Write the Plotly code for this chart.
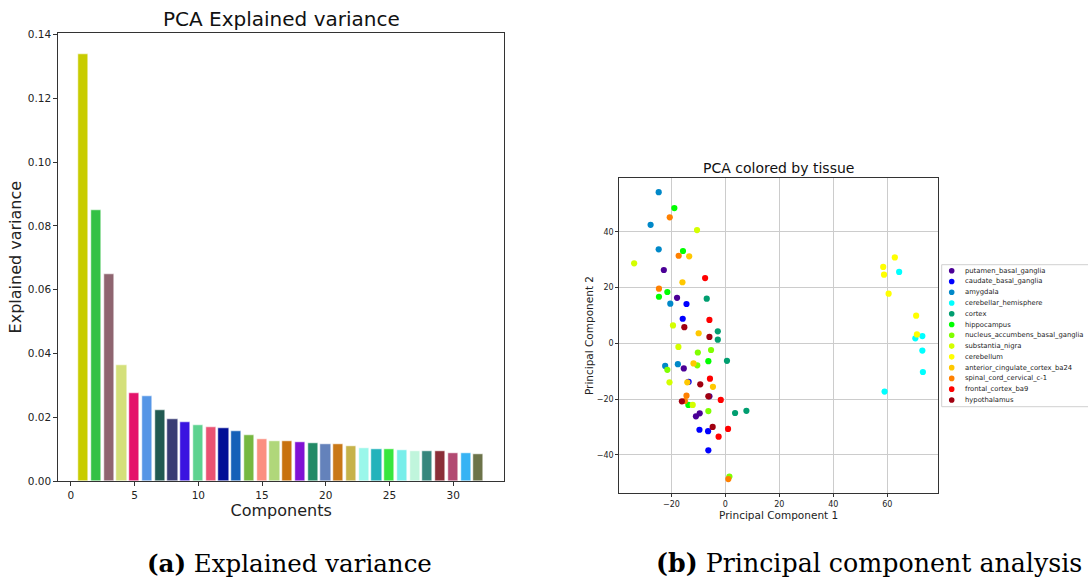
import plotly.graph_objects as go

W, H = 1088, 582

# ---------------- data: explained variance ----------------
components = list(range(1, 33))
explained_variance = [0.1337, 0.0849, 0.0649, 0.0363, 0.0274, 0.0267, 0.0221, 0.0192,
                      0.0183, 0.0174, 0.0167, 0.0165, 0.0155, 0.0144, 0.0132, 0.0125,
                      0.0125, 0.0121, 0.0119, 0.0115, 0.0115, 0.0109, 0.0103, 0.0100,
                      0.0098, 0.0096, 0.0094, 0.0094, 0.0092, 0.0088, 0.0088, 0.0084]
bar_colors = ["#c8cc00", "#33c145", "#8f6570", "#d4e07a", "#e4136a", "#5596e6", "#225a52", "#393c75",
              "#3a14e0", "#5dd28f", "#ea5272", "#020f96", "#1560b8", "#76b840", "#fb8f80", "#b0d77a",
              "#c8720f", "#8011d4", "#228a66", "#6482bb", "#c97817", "#c6b34a", "#9af7ea", "#23b3bb",
              "#38e63e", "#78eeea", "#c0f5dc", "#37867d", "#8a2e38", "#b24a72", "#36b3f4", "#6c7349"]
bar_xticks = [0, 5, 10, 15, 20, 25, 30]

# ---------------- data: PCA scatter ----------------
tissues = ["putamen_basal_ganglia", "caudate_basal_ganglia", "amygdala", "cerebellar_hemisphere",
           "cortex", "hippocampus", "nucleus_accumbens_basal_ganglia", "substantia_nigra",
           "cerebellum", "anterior_cingulate_cortex_ba24", "spinal_cord_cervical_c-1",
           "frontal_cortex_ba9", "hypothalamus"]
tissue_colors = ["#4b0096", "#0000ff", "#0088c8", "#00ffff", "#009e70", "#00ff00", "#80ff00",
                 "#d4ff00", "#ffff00", "#ffc800", "#ff8000", "#ff0000", "#a00010"]

putamen_pc1 = [-22.8, -17.9, -15.4, -5.9, -9.5, -10.9]
putamen_pc2 = [26.3, 16.3, -9.0, -19.0, -25.1, -26.2]
caudate_pc1 = [-14.4, -15.8, -13.6, -9.6, -6.4, -6.3]
caudate_pc2 = [14.1, 8.8, -13.8, -31.0, -31.5, -38.4]
amygdala_pc1 = [-24.7, -27.7, -24.7, -20.4, -22.3, -17.6]
amygdala_pc2 = [54.2, 42.5, 33.7, 14.2, -8.1, -7.5]
cerebellar_hemisphere_pc1 = [64.4, 70.4, 73.0, 73.0, 73.2, 59.0]
cerebellar_hemisphere_pc2 = [25.6, 1.8, 2.6, -2.6, -10.3, -17.3]
cortex_pc1 = [-6.9, -2.8, -2.8, 0.6, 3.6, 7.8]
cortex_pc2 = [16.0, 4.3, 1.3, -6.3, -25.0, -24.2]
hippocampus_pc1 = [-18.9, -15.7, -21.5, -24.6, -6.3, -13.7]
hippocampus_pc2 = [48.5, 33.1, 18.4, 16.7, -6.4, -22.1]
nucleus_accumbens_pc1 = [-10.2, -5.3, -10.4, -21.5, -6.3, 1.5]
nucleus_accumbens_pc2 = [-3.3, -2.4, -7.9, -9.5, -24.3, -47.8]
substantia_nigra_pc1 = [-10.5, -33.8, -19.4, -17.4, -20.7, -12.1]
substantia_nigra_pc2 = [40.6, 28.7, 6.4, -1.3, -14.0, -22.1]
cerebellum_pc1 = [58.5, 62.8, 58.8, 60.5, 70.7, 71.0]
cerebellum_pc2 = [27.4, 30.8, 24.6, 17.8, 9.9, 3.2]
anterior_cingulate_pc1 = [-13.4, -15.9, -9.9, -11.8, -14.1, -4.6]
anterior_cingulate_pc2 = [31.2, 21.9, 3.6, -7.2, -14.0, -15.6]
spinal_cord_pc1 = [-20.6, -17.3, -24.6, -14.4, -15.0, 1.1]
spinal_cord_pc2 = [45.2, 31.4, 19.6, -18.8, -20.7, -48.7]
frontal_cortex_pc1 = [-7.5, -5.9, -5.7, -1.7, 1.0, -2.5]
frontal_cortex_pc2 = [23.4, 8.4, -12.7, -20.3, -30.7, -33.5]
hypothalamus_pc1 = [-15.2, -5.9, -9.3, -6.3, -16.1, -4.7]
hypothalamus_pc2 = [5.8, 2.3, -14.7, -19.0, -20.8, -30.0]

pc_ticks = [-20, 0, 20, 40, 60]
pc2_ticks = [-40, -20, 0, 20, 40]

series_pc1 = [putamen_pc1, caudate_pc1, amygdala_pc1, cerebellar_hemisphere_pc1, cortex_pc1,
              hippocampus_pc1, nucleus_accumbens_pc1, substantia_nigra_pc1, cerebellum_pc1,
              anterior_cingulate_pc1, spinal_cord_pc1, frontal_cortex_pc1, hypothalamus_pc1]
series_pc2 = [putamen_pc2, caudate_pc2, amygdala_pc2, cerebellar_hemisphere_pc2, cortex_pc2,
              hippocampus_pc2, nucleus_accumbens_pc2, substantia_nigra_pc2, cerebellum_pc2,
              anterior_cingulate_pc2, spinal_cord_pc2, frontal_cortex_pc2, hypothalamus_pc2]


def px(x):
    return x / W


def py(y):
    return 1 - y / H


fig = go.Figure()

fig.add_trace(go.Bar(x=components, y=explained_variance, width=0.8,
                     marker=dict(color=bar_colors, line=dict(color="rgba(255,255,255,0.55)", width=1)),
                     xaxis="x", yaxis="y", showlegend=False))

for name, c, xs, ys in zip(tissues, tissue_colors, series_pc1, series_pc2):
    fig.add_trace(go.Scatter(x=xs, y=ys, mode="markers", name=name,
                             marker=dict(color=c, size=6.2, line=dict(width=0)),
                             xaxis="x2", yaxis="y2", showlegend=False))

axis_line = "#333333"
fig.update_layout(
    width=W, height=H, autosize=False,
    margin=dict(l=0, r=0, t=0, b=0, autoexpand=False),
    paper_bgcolor="white", plot_bgcolor="white",
    font=dict(family="DejaVu Sans", color="#222222"),
    bargap=0,
    xaxis=dict(domain=[px(58.3), px(504)], range=[-0.99, 33.99], tickvals=bar_xticks,
               showline=True, mirror=True, linecolor=axis_line, linewidth=1, automargin=False,
               ticks="outside", ticklen=4, tickcolor=axis_line, showgrid=False, zeroline=False,
               tickfont=dict(size=10.5),
               title=dict(text="Components", font=dict(size=16), standoff=3)),
    yaxis=dict(domain=[py(481), py(33.3)], range=[0, 0.1404], dtick=0.02, tickformat=".2f",
               showline=True, mirror=True, linecolor=axis_line, linewidth=1, automargin=False,
               ticks="outside", ticklen=4, tickcolor=axis_line, showgrid=False, zeroline=False,
               tickfont=dict(size=10.5),
               title=dict(text="Explained variance", font=dict(size=16), standoff=2)),
    xaxis2=dict(domain=[px(619.3), px(938)], range=[-39.3, 78.8], tickvals=pc_ticks,
                showline=True, mirror=True, linecolor=axis_line, linewidth=1, automargin=False,
                ticks="outside", ticklen=3, tickcolor=axis_line, showgrid=True,
                gridcolor="#cccccc", gridwidth=1, zeroline=False, anchor="y2",
                tickfont=dict(size=8),
                title=dict(text="Principal Component 1", font=dict(size=10.5), standoff=0)),
    yaxis2=dict(domain=[py(493.3), py(177.7)], range=[-53.8, 59.4], tickvals=pc2_ticks,
                showline=True, mirror=True, linecolor=axis_line, linewidth=1, automargin=False,
                ticks="outside", ticklen=3, tickcolor=axis_line, showgrid=True,
                gridcolor="#cccccc", gridwidth=1, zeroline=False, anchor="x2",
                tickfont=dict(size=8),
                title=dict(text="Principal Component 2", font=dict(size=10.5), standoff=1)),
)

annotations = [
    dict(text="PCA Explained variance", x=px(281), y=py(19.5), xref="paper", yref="paper",
         showarrow=False, xanchor="center", yanchor="middle", font=dict(size=20, color="#111111")),
    dict(text="PCA colored by tissue", x=px(778.6), y=py(167.5), xref="paper", yref="paper",
         showarrow=False, xanchor="center", yanchor="middle", font=dict(size=14, color="#111111")),
    dict(text="<b>(a)</b> Explained variance", x=px(289), y=py(563), xref="paper", yref="paper",
         showarrow=False, xanchor="center", yanchor="middle",
         font=dict(family="DejaVu Serif", size=24.5, color="#000000")),
    dict(text="<b>(b)</b> Principal component analysis", x=px(869), y=py(563), xref="paper", yref="paper",
         showarrow=False, xanchor="center", yanchor="middle",
         font=dict(family="DejaVu Serif", size=25.3, color="#000000")),
]

shapes = [dict(type="rect", xref="paper", yref="paper", x0=px(941.7), x1=px(1100),
               y0=py(406.7), y1=py(264.7), line=dict(color="#d0d0d0", width=1),
               fillcolor="rgba(255,255,255,0.9)", layer="above")]

row0, row_step = 270.7, 10.77
for i, (name, c) in enumerate(zip(tissues, tissue_colors)):
    yy = row0 + i * row_step
    shapes.append(dict(type="circle", xref="paper", yref="paper", xsizemode="pixel", ysizemode="pixel",
                       xanchor=px(951.7), yanchor=py(yy), x0=-2.8, x1=2.8, y0=-2.8, y1=2.8,
                       fillcolor=c, line=dict(width=0), layer="above"))
    annotations.append(dict(text=name, x=px(963), y=py(yy), xref="paper", yref="paper",
                            showarrow=False, xanchor="left", yanchor="middle",
                            font=dict(size=6.8, color="#222222")))

fig.update_layout(annotations=annotations, shapes=shapes)

fig.write_html("out.html", config={"displayModeBar": False},
               post_script="document.body.style.margin='0';document.body.style.padding='0';"
                           "document.body.style.overflow='hidden';")
